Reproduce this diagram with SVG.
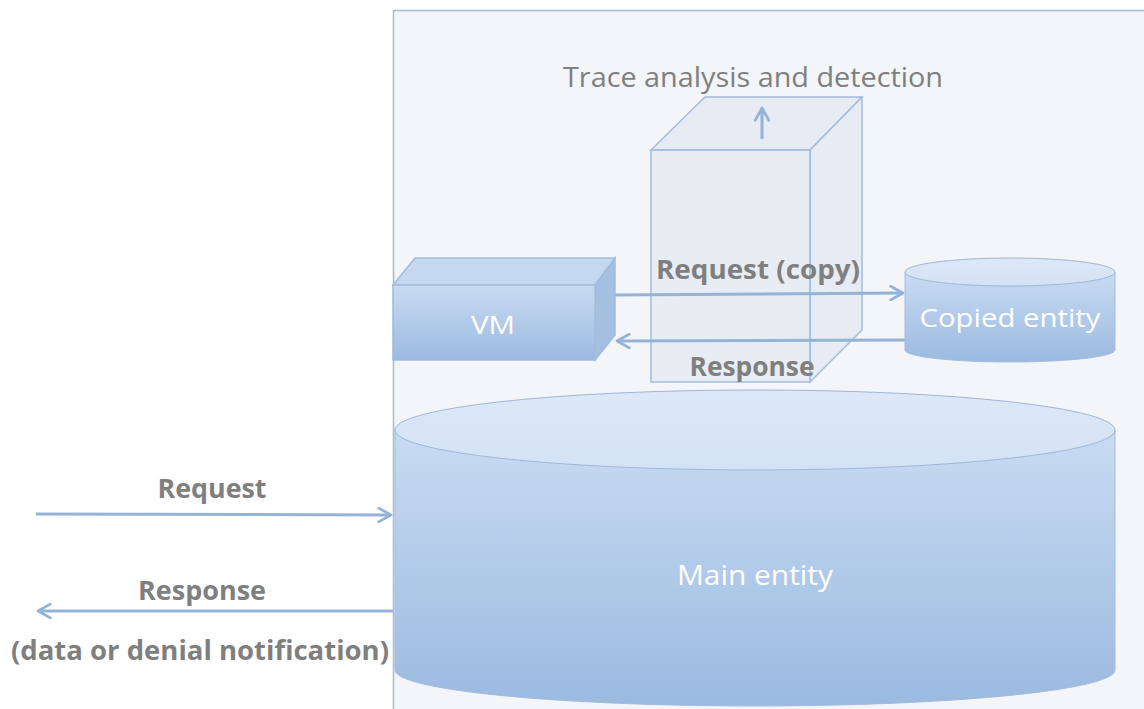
<svg xmlns="http://www.w3.org/2000/svg" width="1144" height="709" viewBox="0 0 1144 709">
<defs>
<style>
.lbl{font-family:"Open Sans","Liberation Sans",sans-serif;font-weight:bold;fill:#7f7f7f;text-anchor:middle}
.wt{font-family:"Open Sans","Liberation Sans",sans-serif;fill:#ffffff;text-anchor:middle}
.conn{stroke:#95b3d7;stroke-width:3;fill:none;marker-end:url(#ah)}
.edge{stroke:#a3bcdc;stroke-width:1.5}
</style>
<marker id="ah" viewBox="0 0 12 12" refX="10" refY="6" markerWidth="5.5" markerHeight="5.5" orient="auto" markerUnits="strokeWidth">
<path d="M1,1 L10,6 L1,11" fill="none" stroke="#95b3d7" stroke-width="2" stroke-linecap="round" stroke-linejoin="round"/>
</marker>
<linearGradient id="gBody" x1="0" y1="0" x2="0" y2="1">
<stop offset="0" stop-color="#c9dbf3"/>
<stop offset="1" stop-color="#9bbae0"/>
</linearGradient>
<linearGradient id="gTop" x1="0" y1="0" x2="0" y2="1">
<stop offset="0" stop-color="#dde8f7"/>
<stop offset="1" stop-color="#d3e2f5"/>
</linearGradient>
</defs>
<rect x="0" y="0" width="1144" height="709" fill="#ffffff"/>
<g id="frame">
<rect x="393.5" y="10.5" width="760" height="710" fill="#f3f5f9" stroke="#a3bcdc" stroke-width="1.5"/>
</g>
<g id="main-entity">
<path d="M395,430 L395,670 A360,36 0 0 0 1115,670 L1115,430 Z" fill="url(#gBody)" stroke="#a3bcdc" stroke-width="1"/>
<ellipse cx="755" cy="430" rx="360" ry="40" fill="url(#gTop)" stroke="#9eb7d8" stroke-width="1"/>
<text class="wt" x="755" y="585" font-size="28" textLength="156" lengthAdjust="spacingAndGlyphs">Main entity</text>
</g>
<g id="vm">
<polygon points="393,285 415,258 615,258 595,285" fill="#c5d8f1" class="edge"/>
<polygon points="595,285 615,258 615,335 595,360" fill="#a5bfe0" class="edge"/>
<rect x="393" y="285" width="202" height="75" fill="url(#gBody)" class="edge"/>
<text class="wt" x="493" y="334" font-size="26" textLength="44" lengthAdjust="spacingAndGlyphs">VM</text>
</g>
<g id="copied-entity">
<path d="M905,272 L905,350 A105,12 0 0 0 1115,350 L1115,272 Z" fill="url(#gBody)" stroke="#a3bcdc" stroke-width="1"/>
<ellipse cx="1010" cy="272" rx="105" ry="14" fill="url(#gTop)" stroke="#9eb7d8" stroke-width="1"/>
<text class="wt" x="1010" y="327" font-size="26" textLength="181" lengthAdjust="spacingAndGlyphs">Copied entity</text>
</g>
<g id="trace-box">
<polygon points="651,150 705,97 862,97 810,150" fill="#dfe5ee" fill-opacity="0.6" class="edge"/>
<polygon points="810,150 862,97 862,330 810,382" fill="#dfe5ee" fill-opacity="0.6" class="edge"/>
<rect x="651" y="150" width="159" height="232" fill="#dfe5ee" fill-opacity="0.55" class="edge"/>
<text x="753" y="87" font-size="27" text-anchor="middle" fill="#7f7f7f" font-family="'Open Sans','Liberation Sans',sans-serif" textLength="380" lengthAdjust="spacingAndGlyphs">Trace analysis and detection</text>
</g>
<g id="connectors">
<line class="conn" x1="762" y1="139" x2="762" y2="108"/>
<line class="conn" x1="615" y1="295" x2="903" y2="293"/>
<line class="conn" x1="905" y1="340" x2="617" y2="341"/>
<line class="conn" x1="36" y1="514" x2="391" y2="515"/>
<line class="conn" x1="393" y1="611" x2="38" y2="611"/>
</g>
<g id="labels">
<text class="lbl" x="758" y="279" font-size="26" textLength="204" lengthAdjust="spacingAndGlyphs">Request (copy)</text>
<text class="lbl" x="752" y="376" font-size="26" textLength="125" lengthAdjust="spacingAndGlyphs">Response</text>
<text class="lbl" x="212" y="498" font-size="26" textLength="109" lengthAdjust="spacingAndGlyphs">Request</text>
<text class="lbl" x="202" y="600" font-size="26" textLength="128" lengthAdjust="spacingAndGlyphs">Response</text>
<text class="lbl" x="200" y="660" font-size="26" textLength="378" lengthAdjust="spacingAndGlyphs">(data or denial notification)</text>
</g>
</svg>
